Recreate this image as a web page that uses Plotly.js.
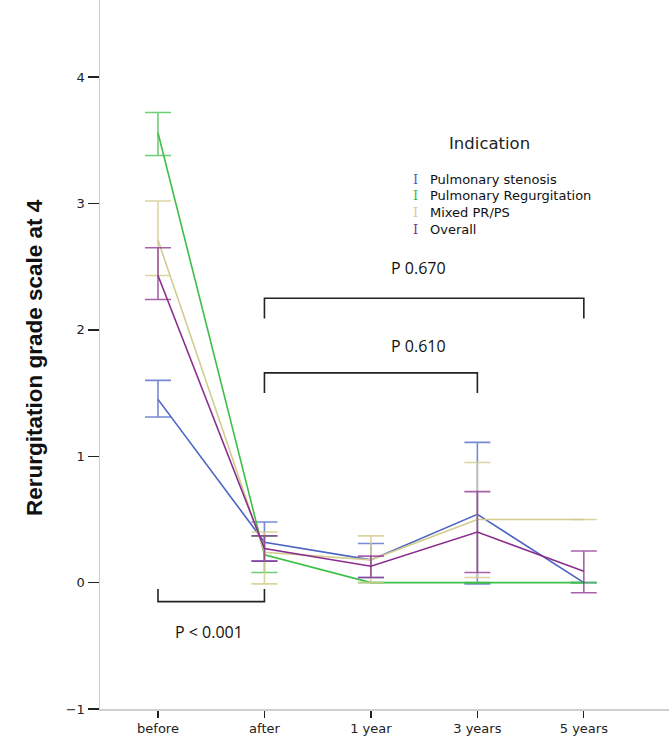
<!DOCTYPE html>
<html>
<head>
<meta charset="utf-8">
<script src="https://cdn.plot.ly/plotly-3.0.1.min.js"></script>
<style>html,body{margin:0;padding:0;background:#fff;}#chart{width:669px;height:741px;}</style>
</head>
<body>
<div id="chart"></div>
<script>
// Categories
const timepoints = ['before', 'after', '1 year', '3 years', '5 years'];
const seriesNames = ['Pulmonary stenosis', 'Pulmonary Regurgitation', 'Mixed PR/PS', 'Overall'];
const seriesColors = ['#4b63c3', '#3dbf47', '#d3cc90', '#8a2d8e'];
const barColors = ['rgba(75,99,195,0.75)', 'rgba(61,191,71,0.75)', 'rgba(211,204,144,0.85)', 'rgba(138,45,142,0.75)'];
const yTitle = 'Rerurgitation grade scale at 4';
const legendTitle = 'Indication';

// Means
const stenosisMean      = [1.45, 0.32, 0.18, 0.54, 0.00];
const regurgitationMean = [3.56, 0.22, 0.00, 0.00, 0.00];
const mixedMean         = [2.71, 0.24, 0.18, 0.50, 0.50];
const overallMean       = [2.43, 0.27, 0.13, 0.40, 0.09];

// Error bar upper / lower limits
const stenosisUpper      = [1.60, 0.48, 0.31, 1.11, 0.00];
const stenosisLower      = [1.31, 0.17, 0.04, -0.01, 0.00];
const regurgitationUpper = [3.72, 0.37, 0.00, 0.00, 0.00];
const regurgitationLower = [3.38, 0.08, 0.00, 0.00, 0.00];
const mixedUpper         = [3.02, 0.40, 0.37, 0.95, null];
const mixedLower         = [2.43, -0.01, 0.00, 0.04, null];
const overallUpper       = [2.65, 0.37, 0.21, 0.72, 0.25];
const overallLower       = [2.24, 0.17, 0.04, 0.08, -0.08];

// P-value brackets
const bracketStart = [1, 1, 0];
const bracketEnd   = [4, 3, 1];
const bracketY     = [2.25, 1.66, -0.15];
const bracketLegY  = [2.09, 1.50, -0.05];
const bracketText  = ['P 0.670', 'P 0.610', 'P < 0.001'];
const bracketTextX = [2.45, 2.45, 0.48];
const bracketTextY = [2.49, 1.87, -0.39];

const means = [stenosisMean, regurgitationMean, mixedMean, overallMean];
const uppers = [stenosisUpper, regurgitationUpper, mixedUpper, overallUpper];
const lowers = [stenosisLower, regurgitationLower, mixedLower, overallLower];

const L = 100, W = 669 - L, H = 709;
const xIdx = timepoints.map((_, i) => i);
const traces = means.map((m, s) => ({
  type: 'scatter',
  mode: 'lines',
  x: xIdx,
  y: m,
  name: seriesNames[s],
  showlegend: false,
  line: {color: seriesColors[s], width: 1.6},
  error_y: {
    type: 'data',
    symmetric: false,
    array: uppers[s].map((u, i) => u === null ? null : +(u - m[i]).toFixed(3)),
    arrayminus: lowers[s].map((l, i) => l === null ? null : +(m[i] - l).toFixed(3)),
    color: barColors[s],
    thickness: 1.6,
    width: 13
  }
}));

const shapes = [];
const annotations = [];
bracketStart.forEach((a, k) => {
  const b = bracketEnd[k];
  shapes.push({
    type: 'path', xref: 'x', yref: 'y',
    path: `M ${a},${bracketLegY[k]} L ${a},${bracketY[k]} L ${b},${bracketY[k]} L ${b},${bracketLegY[k]}`,
    line: {color: '#222', width: 1.6}
  });
  annotations.push({
    xref: 'x', yref: 'y', x: bracketTextX[k], y: bracketTextY[k],
    text: bracketText[k], showarrow: false,
    font: {family: 'Open Sans, sans-serif', size: 16, color: '#111'}
  });
});

// Legend drawn as annotations
annotations.push({
  xref: 'paper', yref: 'paper', x: (489 - L) / W, y: 1 - 143 / H,
  text: legendTitle, showarrow: false, xanchor: 'center', yanchor: 'middle',
  font: {family: 'DejaVu Sans, sans-serif', size: 16.5, color: '#222'}
});
seriesNames.forEach((n, s) => {
  const py = 179 + s * 16.8;
  annotations.push({
    xref: 'paper', yref: 'paper', x: (411 - L) / W, y: 1 - py / H,
    text: 'I', showarrow: false, xanchor: 'left', yanchor: 'middle',
    font: {family: 'DejaVu Serif, serif', size: 13, color: seriesColors[s]}
  });
  annotations.push({
    xref: 'paper', yref: 'paper', x: (428 - L) / W, y: 1 - py / H,
    text: n, showarrow: false, xanchor: 'left', yanchor: 'middle',
    font: {family: 'DejaVu Sans, sans-serif', size: 13, color: '#111'}
  });
});

// Y axis title
annotations.push({
  xref: 'paper', yref: 'paper', x: (34 - L) / W, y: 1 - 358 / H,
  text: '<b>' + yTitle + '</b>', showarrow: false, textangle: -90,
  xanchor: 'center', yanchor: 'middle',
  font: {family: 'Liberation Sans, Arial, sans-serif', size: 22.5, color: '#111'}
});

const layout = {
  width: 669, height: 741,
  margin: {l: L, r: 0, t: 0, b: 32, pad: 0},
  paper_bgcolor: '#fff', plot_bgcolor: '#fff',
  showlegend: false,
  xaxis: {
    range: [-(158 - L) / 106.5, 4.8],
    tickmode: 'array', tickvals: xIdx, ticktext: timepoints,
    showgrid: false, zeroline: false,
    showline: true, linecolor: '#cfcfcf', linewidth: 1.5,
    ticks: 'outside', ticklen: 7, tickwidth: 1.3, tickcolor: '#222',
    tickfont: {family: 'DejaVu Sans, sans-serif', size: 13, color: '#222'}
  },
  yaxis: {
    range: [-1, 4.61],
    tickmode: 'array', tickvals: [-1, 0, 1, 2, 3, 4],
    showgrid: false, zeroline: false,
    showline: true, linecolor: '#cfcfcf', linewidth: 1.5,
    ticks: 'outside', ticklen: 11, tickwidth: 1.3, tickcolor: '#222',
    tickfont: {family: 'DejaVu Sans, sans-serif', size: 13, color: '#222'}
  },
  shapes: shapes,
  annotations: annotations
};

Plotly.newPlot('chart', traces, layout, {displayModeBar: false, staticPlot: true});
</script>
</body>
</html>
